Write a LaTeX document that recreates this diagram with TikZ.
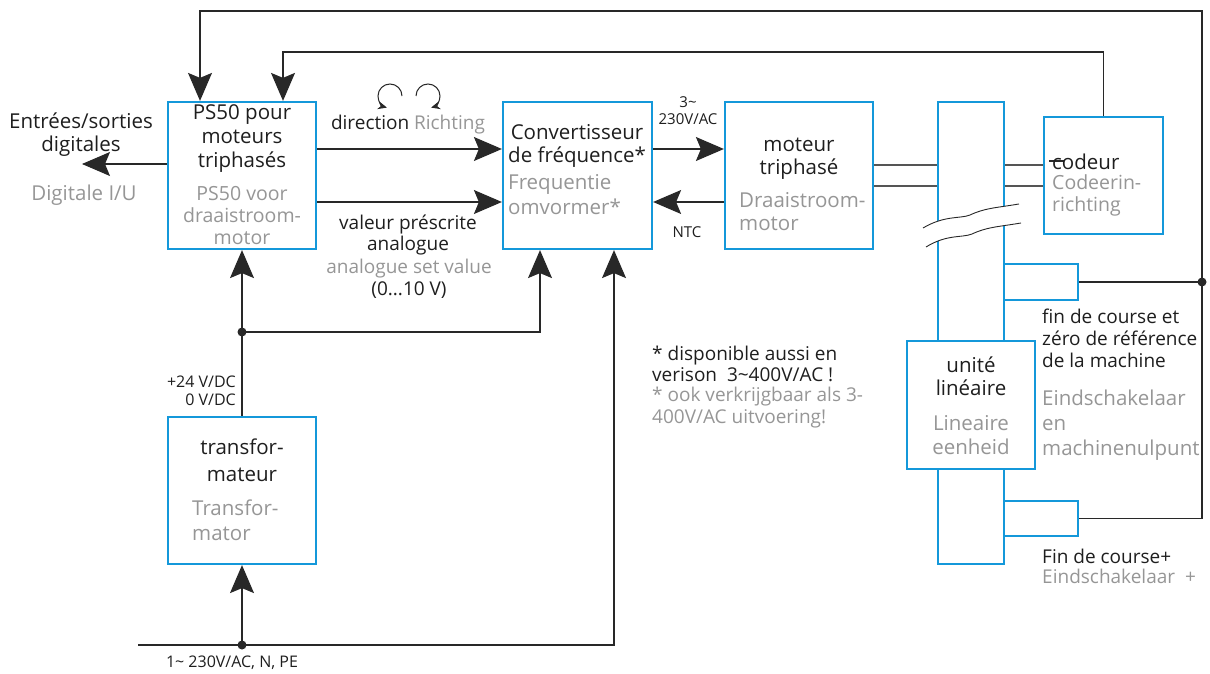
\documentclass[tikz,border=0pt]{standalone}
\usepackage{fontspec}
\setmainfont{Open Sans}
\usetikzlibrary{arrows.meta,calc}
\definecolor{boxblue}{RGB}{20,152,218}
\definecolor{txtgray}{RGB}{150,150,150}
\definecolor{txtblack}{RGB}{30,30,30}
\definecolor{wirec}{RGB}{40,40,40}
\definecolor{dblc}{RGB}{85,85,85}
\newcommand\fbig{\fontsize{20.5}{23}\selectfont}
\newcommand\fmid{\fontsize{19}{21.7}\selectfont}
\newcommand\fsmall{\fontsize{15}{16.5}\selectfont}
\newcommand\fsmallb{\fontsize{16}{18}\selectfont}
\tikzset{
  box/.style={draw=boxblue, line width=2.2pt, inner sep=0pt, fill=white},
  wire/.style={draw=wirec, line width=1.1pt},
  arr/.style={wire, -{Stealth[length=28pt,width=24pt,inset=5pt]}},
  dbl/.style={draw=dblc, line width=1.2pt},
  blk/.style={text=txtblack, inner sep=0pt, align=center, font=\fbig},
  gry/.style={text=txtgray, inner sep=0pt, align=center, font=\fbig},
  dot/.style={fill=wirec},
  rot/.style={draw=wirec, line width=1pt, -{Stealth[length=9pt,width=8pt]}}
}
\begin{document}
\begin{tikzpicture}[x=1pt,y=-1pt]
\useasboundingbox (0,0) rectangle (1210,674);

% boxes
\node[box, minimum width=148pt, minimum height=147pt] (ps)   at (242,175.5) {};
\node[box, minimum width=149pt, minimum height=147pt] (conv) at (577.5,175.5) {};
\node[box, minimum width=148pt, minimum height=147pt] (mot)  at (799,175.5) {};
\node[box, minimum width=66pt,  minimum height=462pt] (rail) at (971,333) {};
\node[box, minimum width=119pt, minimum height=117pt] (cod)  at (1103.5,175.5) {};
\node[box, minimum width=128pt, minimum height=128pt] (unit) at (971,405) {};
\node[box, minimum width=74pt,  minimum height=36pt]  (ls1)  at (1041,282) {};
\node[box, minimum width=74pt,  minimum height=35pt]  (ls2)  at (1041,518.5) {};
\node[box, minimum width=148pt, minimum height=147pt] (tr)   at (242,490.5) {};

% break in the rail
\fill[white] (921,228) .. controls (945,215) and (960,219) .. (970,215)
   .. controls (985,208) and (995,208) .. (1021,204)
   -- (1023,223) .. controls (997,227) and (987,227) .. (972,234)
   .. controls (962,238) and (947,234) .. (924,247) -- cycle;
\draw[wirec, line width=0.9pt] (923,228) .. controls (945,215) and (960,219) .. (970,215)
   .. controls (985,208) and (995,208) .. (1019,204);
\draw[wirec, line width=0.9pt] (926,247) .. controls (947,234) and (962,238) .. (972,234)
   .. controls (987,227) and (997,227) .. (1021,223);

% coordinates
\coordinate (yd) at (0,149);
\coordinate (ya) at (0,202);
\coordinate (t2) at (283,52);
\coordinate (cR) at (1202,11);
\coordinate (cL) at (200,11);
\coordinate (dout) at (82,164);
\coordinate (j1) at (242,332);
\coordinate (c1) at (540,332);
\coordinate (mL) at (138,645);
\coordinate (mR) at (614,645);
\coordinate (j2) at (242,645);
\coordinate (l1) at (0,165);
\coordinate (l2) at (0,186);

% connectors
\draw[arr] (cod.north) |- (t2) -- (ps.north -| t2);
\draw[arr] (ls2.east) -| (cR) -- (cL) -- (ps.north -| cL);
\draw[wire] (ls1.east) -- (ls1.east -| cR);
\fill[dot] (ls1.east -| cR) circle (4.5pt);
\draw[arr] (ps.west |- dout) -- (dout);
\draw[arr] (ps.east |- yd) -- (conv.west |- yd);
\draw[arr] (ps.east |- ya) -- (conv.west |- ya);
\draw[arr] (conv.east |- yd) -- (mot.west |- yd);
\draw[arr] (mot.west |- ya) -- (conv.east |- ya);
\draw[dbl] (mot.east |- l1) -- (rail.west |- l1);
\draw[dbl] (mot.east |- l2) -- (rail.west |- l2);
\draw[dbl] (rail.east |- l1) -- (cod.west |- l1);
\draw[dbl] (rail.east |- l2) -- (cod.west |- l2);
\draw[wirec, line width=2.4pt] (1049,161) -- (1064,161);
\draw[arr] (tr.north) -- (ps.south);
\fill[dot] (j1) circle (4.5pt);
\draw[arr] (j1) -- (c1) -- (conv.south -| c1);
\draw[arr] (mL) -- (mR) -- (conv.south -| mR);
\draw[arr] (j2) -- (tr.south);
\fill[dot] (j2) circle (4.5pt);

% rotation symbols
\draw[rot] (402,96) arc[start angle=0, end angle=255, radius=12pt];
\draw[rot] (416,96) arc[start angle=180, end angle=-75, radius=12pt];

% texts
\node[blk, font=\fontsize{20.5}{24}\selectfont] (tps) at (242,139) {PS50 pour\\moteurs\\triphasés};
\node[gry, font=\fontsize{19.5}{22}\selectfont] (gps) at (242,216) {PS50 voor\\draaistroom-\\motor};
\node[blk] (tcv) at (577,146) {Convertisseur\\de fréquence*};
\node[gry, align=left, anchor=west, font=\fontsize{20.5}{25}\selectfont] (gcv) at (508,194.5) {Frequentie\\omvormer*};
\node[blk] (tmo) at (799,159) {moteur\\triphasé};
\node[gry, align=left, anchor=west] (gmo) at (739,211.5) {Draaistroom-\\motor};
\node[blk, anchor=west] (tco) at (1052,162) {codeur};
\node[gry, align=left, anchor=west, font=\fontsize{19.5}{22}\selectfont] (gco) at (1052,195) {Codeerin-\\richting};
\node[blk] (tun) at (971,376.5) {unité\\linéaire};
\node[gry, font=\fontsize{20.5}{24}\selectfont] (gun) at (971,435) {Lineaire\\eenheid};
\node[blk, font=\fontsize{20.5}{27}\selectfont] (ttr) at (242,460.5) {transfor-\\mateur};
\node[gry, align=left, anchor=west, font=\fontsize{20.5}{25}\selectfont] (gtr) at (192,520.5) {Transfor-\\mator};
\node[blk] (tio) at (81,135) {Entrées/sorties\\digitales};
\node[gry] (gio) at (84,195) {Digitale I/U};
\node[blk, font=\fmid] (tdir) at (408,125) {direction \textcolor{txtgray}{Richting}};
\node[blk, font=\fmid] (tval) at (408,235) {valeur préscrite\\analogue};
\node[gry, font=\fmid] (gval) at (409,269) {analogue set value};
\node[blk, font=\fmid] (tval2) at (409,290) {(0...10 V)};
\node[blk, font=\fsmall] (tac) at (688,110.5) {3\textasciitilde\\230V/AC};
\node[blk, font=\fsmall] (tntc) at (687,232) {NTC};
\node[blk, font=\fsmallb, align=right, anchor=east] (tdc) at (236,391) {+24 V/DC\\0 V/DC};
\node[blk, font=\fsmallb] (tmain) at (232,663) {1\textasciitilde{} 230V/AC, N, PE};
\node[blk, font=\fmid, align=left, anchor=west] (tfn) at (652,364) {* disponible aussi en\\verison\ \ 3\textasciitilde400V/AC !};
\node[gry, font=\fmid, align=left, anchor=west] (gfn) at (652,407.5) {* ook verkrijgbaar als 3-\\400V/AC uitvoering!};
\node[blk, font=\fmid, align=left, anchor=west] (tls1) at (1042,338.5) {fin de course et\\zéro de référence\\de la machine};
\node[gry, align=left, anchor=west, font=\fontsize{20.5}{25}\selectfont] (gls1) at (1042,425) {Eindschakelaar\\en\\machinenulpunt};
\node[blk, font=\fmid, anchor=west] (tls2) at (1042,556) {Fin de course+};
\node[gry, font=\fmid, anchor=west] (gls2) at (1042,576) {Eindschakelaar\ \ +};
\end{tikzpicture}
\end{document}
